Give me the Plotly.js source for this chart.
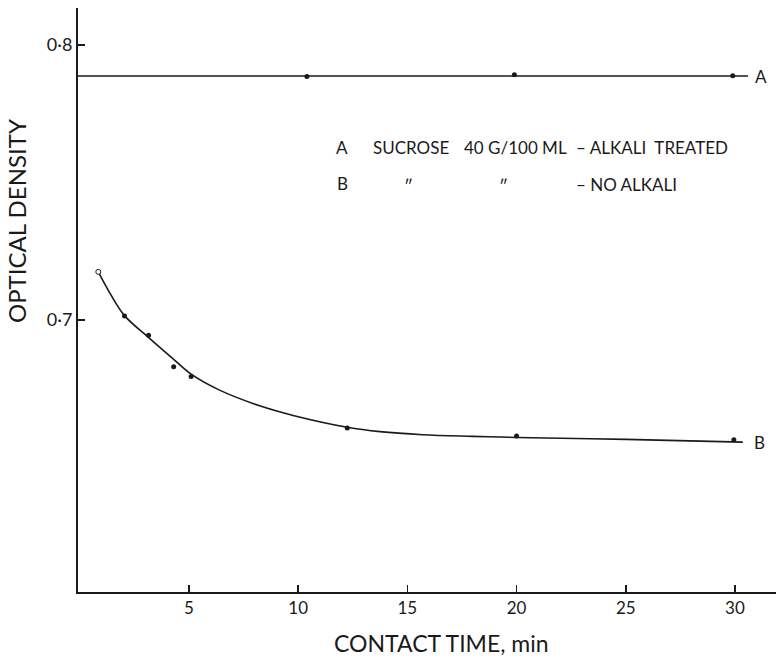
<!DOCTYPE html>
<html>
<head>
<meta charset="utf-8">
<script src="https://cdn.plot.ly/plotly-3.0.1.min.js"></script>
<style>html,body{margin:0;padding:0;background:#fff;}#chart{width:776px;height:658px;}</style>
</head>
<body>
<div id="chart"></div>
<script>
// Series A: sucrose 40 g/100 ml, alkali treated
const aTime = [10.4, 19.9, 29.9];
const aOD = [0.7885, 0.7892, 0.7888];
const aLineTime = [-0.08, 30.6];
const aLineOD = [0.7887, 0.7887];

// Series B: no alkali (measured points)
const bTime = [2.05, 3.15, 4.3, 5.1, 12.25, 20.0, 29.95];
const bOD = [0.7015, 0.6945, 0.683, 0.6795, 0.6607, 0.6578, 0.6565];
// Series B: drawn curve
const bCurveTime = [0.8, 1.4, 2.06, 3.17, 4.3, 5.1, 6.4, 8.24, 9.77, 12.25, 13.75, 15.7, 18.0, 20.0, 25.0, 30.36];
const bCurveOD = [0.7182, 0.7095, 0.7015, 0.6935, 0.6857, 0.6803, 0.6745, 0.6688, 0.6653, 0.6610, 0.6594, 0.6583, 0.6577, 0.6573, 0.6566, 0.6556];
const bStartTime = [0.85];
const bStartOD = [0.7175];

const xTicks = [5, 10, 15, 20, 25, 30];
const yTicks = [0.7, 0.8];
const yTickText = ['0·7', '0·8'];

const font = 'Lato, "Open Sans", sans-serif';
const ink = '#1a1a1a';

const traces = [
  {x: aLineTime, y: aLineOD, mode: 'lines', line: {color: ink, width: 1.6}, hoverinfo: 'skip'},
  {x: aTime, y: aOD, mode: 'markers', marker: {color: ink, size: 5}},
  {x: bCurveTime, y: bCurveOD, mode: 'lines', line: {color: ink, width: 1.6, shape: 'spline', smoothing: 1}, hoverinfo: 'skip'},
  {x: bTime, y: bOD, mode: 'markers', marker: {color: ink, size: 5}},
  {x: bStartTime, y: bStartOD, mode: 'markers', marker: {color: '#fff', size: 5, line: {color: ink, width: 1}}}
];

const L = 78, T = 8, W = 698, H = 584;
const px = v => (v - L) / W;
const py = v => (T + H - v) / H;
const tf = s => ({size: s, family: font, color: ink});
const ann = (x, y, text, size, xanchor) => ({xref: 'paper', yref: 'paper', x: px(x), y: py(y), text: text, showarrow: false, xanchor: xanchor || 'left', yanchor: 'middle', font: tf(size)});

const layout = {
  width: 776, height: 658,
  margin: {l: L, r: 0, t: T, b: 66},
  paper_bgcolor: '#fff', plot_bgcolor: '#fff',
  showlegend: false,
  font: {family: font, color: ink},
  xaxis: {
    range: [-0.08, 31.88], tickvals: xTicks, ticks: 'inside', ticklen: 7, tickwidth: 1.6, tickcolor: ink,
    showline: true, linecolor: ink, linewidth: 2, showgrid: false, zeroline: false,
    tickfont: tf(17)
  },
  yaxis: {
    range: [0.6011, 0.81345], tickvals: yTicks, ticktext: yTickText, ticks: 'inside', ticklen: 7, tickwidth: 1.6, tickcolor: ink,
    showline: true, linecolor: ink, linewidth: 2, showgrid: false, zeroline: false,
    tickfont: tf(18)
  },
  annotations: [
    ann(753, 77, 'A', 17),
    ann(752, 442, 'B', 17),
    ann(334, 147, 'A', 17),
    ann(371, 147, 'SUCROSE', 17),
    ann(462, 147, '40 G/100 ML', 17),
    ann(574, 147, '– ALKALI  TREATED', 17),
    ann(335, 183, 'B', 17),
    ann(408, 186, '″', 17, 'center'),
    ann(503, 186, '″', 17, 'center'),
    ann(574, 184, '– NO ALKALI', 17),
    ann(442, 643, 'CONTACT TIME, min', 23, 'center'),
    Object.assign(ann(17, 221, 'OPTICAL DENSITY', 24, 'center'), {textangle: -90})
  ]
};

Plotly.newPlot('chart', traces, layout, {staticPlot: true, displayModeBar: false});
</script>
</body>
</html>
